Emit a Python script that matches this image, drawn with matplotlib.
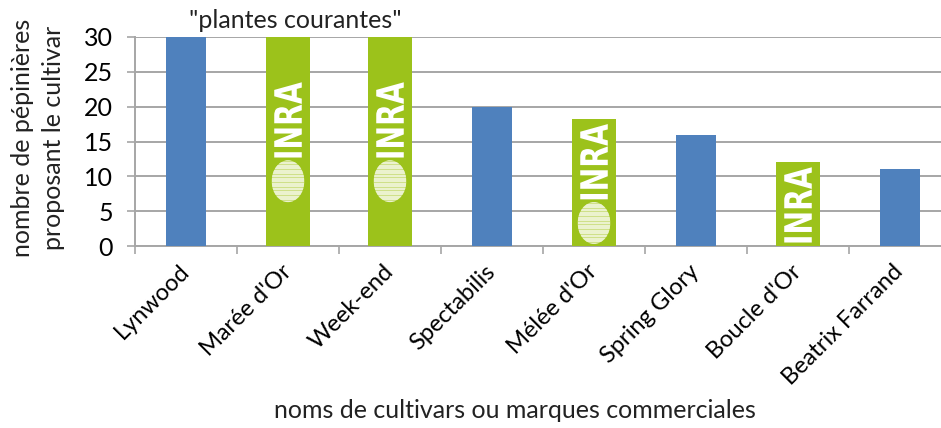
import matplotlib

matplotlib.use("Agg")
import matplotlib.pyplot as plt
import numpy as np
from matplotlib.patches import Ellipse, PathPatch
from matplotlib.textpath import TextPath
from matplotlib.font_manager import FontProperties
from matplotlib.transforms import Affine2D

cultivars = ["Lynwood", "Marée d'Or", "Week-end", "Spectabilis", "Mélée d'Or",
             "Spring Glory", "Boucle d'Or", "Beatrix Farrand"]
nurseries = [30, 30, 30, 20, 18.2, 16, 12, 11]
is_inra = [False, True, True, False, True, False, True, False]
has_seal = [False, True, True, False, True, False, False, False]

_C_BLUE = "#4f81bd"
_C_GREEN = "#9cc21b"
_C_GRID = "#a6a6a6"
_FONT = "Lato"

plt.rcParams.update({
    "font.family": [_FONT, "DejaVu Sans"],
    "font.size": 17,
    "text.color": "#222222",
})

W, H = 941, 428
fig = plt.figure(figsize=(W / 100, H / 100), dpi=100)
ax = fig.add_axes([135 / W, (H - 246) / H, 816 / W, 209 / H])

x = np.arange(len(cultivars))
for xi, v, inra in zip(x, nurseries, is_inra):
    w = 0.43 if inra else 0.39
    ax.bar(xi, v, width=w, color=_C_GREEN if inra else _C_BLUE, zorder=3)

# INRA logo on the INRA cultivars: rotated wordmark + striped seal
bold = FontProperties(family="DejaVu Sans", weight="bold")
tp = TextPath((0, 0), "INRA", prop=bold, size=1)
ext = tp.get_extents()
for xi, v, inra, seal in zip(x, nurseries, is_inra, has_seal):
    if not inra:
        continue
    top = min(v, 24.2) - 0.7
    t_h, t_w = 10.8, 0.27
    norm = (Affine2D().translate(-ext.x0, -ext.y0)
            .scale(1 / ext.width, 1 / ext.height)
            .rotate_deg(90).translate(1, 0)
            .scale(t_w, t_h).translate(xi - t_w / 2, top - t_h))
    ax.add_patch(PathPatch(norm.transform_path(tp), fc="white", ec="none", zorder=4))
    if seal:
        cy, eh, ew = top - t_h - 3.4, 6.0, 0.32
        ell = Ellipse((xi, cy), ew, eh, fc="#cfe08a", ec="none", zorder=4)
        ax.add_patch(ell)
        for yy in np.linspace(cy - eh / 2, cy + eh / 2, 17):
            ln, = ax.plot([xi - ew / 2, xi + ew / 2], [yy, yy], color="#f4f8e4",
                          lw=1.1, zorder=5, solid_capstyle="butt")
            ln.set_clip_path(ell)

ax.set_xlim(-0.5, len(cultivars) - 0.5)
ax.set_ylim(0, 30)
ax.set_yticks(range(0, 31, 5))
ax.yaxis.grid(True, color=_C_GRID, lw=1.4, zorder=0)
ax.set_axisbelow(True)
for side in ("top", "right"):
    ax.spines[side].set_visible(False)
for side in ("left", "bottom"):
    ax.spines[side].set_color(_C_GRID)
    ax.spines[side].set_linewidth(1.4)
ax.tick_params(axis="y", length=6, width=1.2, color=_C_GRID, pad=10, labelsize=18)

ax.set_xticks(x)
ax.set_xticklabels(cultivars, rotation=45, ha="right", va="center",
                   rotation_mode="anchor", fontsize=17)
ax.set_xticks(np.arange(-0.5, len(cultivars)), minor=True)
ax.tick_params(axis="x", which="major", length=0, pad=16)
ax.tick_params(axis="x", which="minor", length=6, width=1.2, color=_C_GRID)

fig.text(38 / W, 1 - 138 / H, "nombre de pépinières\nproposant le cultivar",
         rotation=90, ha="center", va="center", fontsize=18, linespacing=1.4)
fig.text(515 / W, 1 - 410 / H, "noms de cultivars ou marques commerciales",
         ha="center", va="center", fontsize=18)
fig.text(295 / W, 1 - 20 / H, '"plantes courantes"', ha="center", va="center",
         fontsize=18)

fig.savefig("out.png", dpi=100)
